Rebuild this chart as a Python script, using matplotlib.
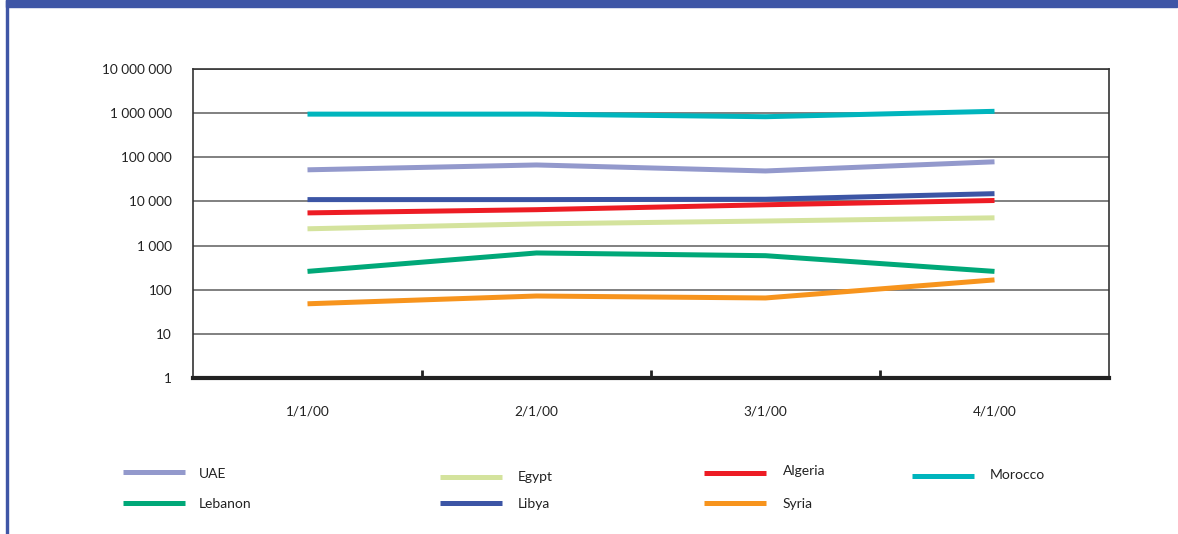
import matplotlib
matplotlib.use('Agg')
import matplotlib.pyplot as plt
from matplotlib.patches import Rectangle
from matplotlib.lines import Line2D
from matplotlib.ticker import FixedLocator, NullFormatter, FuncFormatter
import numpy as np

plt.rcParams['font.family'] = ['Lato', 'DejaVu Sans']

# datos
fechas = ['1/1/00', '2/1/00', '3/1/00', '4/1/00']
paises = ['UAE', 'Egypt', 'Algeria', 'Morocco', 'Lebanon', 'Libya', 'Syria']
uae = [52000, 67000, 49000, 79000]
egypt = [2400, 3100, 3600, 4250]
algeria = [5500, 6500, 8400, 10500]
morocco = [950000, 950000, 830000, 1100000]
lebanon = [260, 680, 590, 260]
libya = [11000, 11000, 11200, 15000]
syria = [48, 72, 65, 167]
series = [uae, egypt, algeria, morocco, lebanon, libya, syria]
colores = ['#9399cc', '#d4e39d', '#ed1c24', '#00b5bd', '#00a878', '#3c55a5', '#f7941d']

azul = '#3f56a6'
gris = '#808080'

fig = plt.figure(figsize=(11.78, 5.34), dpi=100)
# marco azul de la pagina
fig.patches.append(Rectangle((6/1178, 527/534), 1171/1178, 7/534, transform=fig.transFigure,
                             color=azul, zorder=0))
fig.patches.append(Rectangle((6/1178, 0), 2/1178, 1, transform=fig.transFigure,
                             color=azul, zorder=0))

ax = fig.add_axes([193/1178, 156/534, 916/1178, 309/534])
x = np.arange(len(fechas))
orden = [3, 0, 5, 2, 1, 4, 6]
for i in orden:
    ax.plot(x, series[i], color=colores[i], lw=3.6, solid_capstyle='butt', zorder=3)

ax.set_yscale('log')
ax.set_ylim(1, 1e7)
ax.set_xlim(-0.5, 3.5)
ax.yaxis.set_major_locator(FixedLocator([10**k for k in range(8)]))
ax.yaxis.set_minor_locator(FixedLocator([]))
ax.yaxis.set_major_formatter(FuncFormatter(lambda v, p: '{:,.0f}'.format(v).replace(',', ' ')))
ax.tick_params(axis='y', length=0, pad=15, labelsize=9.8, labelcolor='#222222')
ax.grid(axis='y', color=gris, lw=1.4, zorder=1)

# ticks entre categorias, etiquetas centradas
ax.xaxis.set_major_locator(FixedLocator([0.5, 1.5, 2.5]))
ax.xaxis.set_major_formatter(NullFormatter())
ax.xaxis.set_minor_locator(FixedLocator(x))
ax.set_xticks(x, fechas, minor=True)
ax.tick_params(axis='x', which='major', direction='in', length=6, width=2, color='#222222')
ax.tick_params(axis='x', which='minor', length=0, pad=20, labelsize=9.8, labelcolor='#222222')

for lado in ['top', 'left', 'right']:
    ax.spines[lado].set_color('#333333')
    ax.spines[lado].set_linewidth(1.2)
ax.spines['bottom'].set_color('#222222')
ax.spines['bottom'].set_linewidth(3)

# leyenda a mano
pos_leyenda = {
    'UAE': (123, 472, 199, 474),
    'Lebanon': (123, 503, 199, 504),
    'Egypt': (440, 477, 518, 477),
    'Libya': (440, 503, 518, 504),
    'Algeria': (704, 473, 783, 471),
    'Syria': (704, 503, 783, 504),
    'Morocco': (912, 476, 990, 475),
}
for nombre, col in zip(paises, colores):
    x0, yl, xt, yt = pos_leyenda[nombre]
    fig.add_artist(Line2D([x0/1178, (x0+62)/1178], [1-yl/534, 1-yl/534],
                          transform=fig.transFigure, color=col, lw=3.6, solid_capstyle='butt'))
    fig.text(xt/1178, 1-yt/534, nombre, fontsize=10, color='#222222', va='center', ha='left')

plt.savefig('out.png', dpi=100)
